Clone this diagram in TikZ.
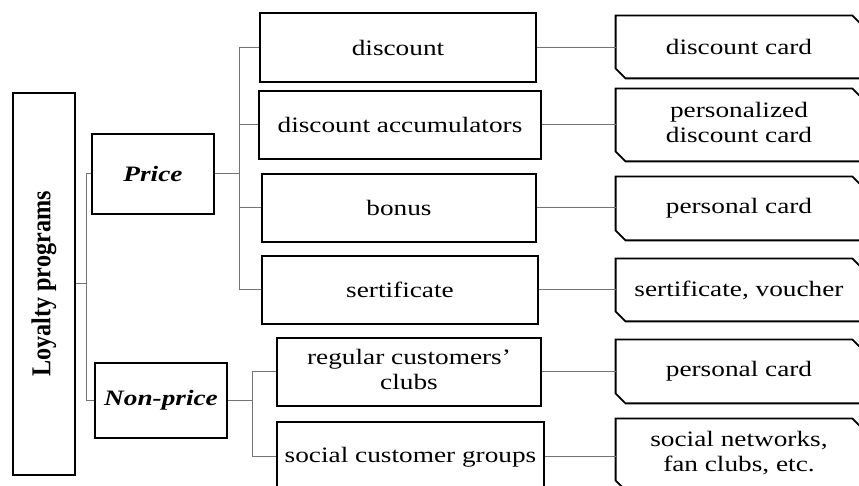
\documentclass[tikz,border=0pt]{standalone}
\usepackage{fontspec}
\setmainfont{Liberation Serif}
\usepackage{graphicx}
\usetikzlibrary{calc}
\newcommand{\wtxt}[1]{\scalebox{1.24}[1]{#1}}
\newcommand{\wtwo}[2]{\scalebox{1.24}[1]{\begin{tabular}{@{}c@{}}#1\\#2\end{tabular}}}
\tikzset{
  boxline/.style={line width=0.9pt, draw=black},
  box/.style={boxline, rectangle, inner sep=0pt, align=center,
    font=\fontsize{11}{12.5}\selectfont},
  chamf/.style={rectangle, inner sep=0pt, align=center, minimum width=123pt,
    font=\fontsize{11}{12.5}\selectfont},
  link/.style={line width=0.5pt, draw=black!55},
}
\begin{document}
\begin{tikzpicture}[x=0.5pt, y=-0.5pt]
			%%%%% START %%%%%
			\clip (0,0) rectangle (859,486);
			
			\node[box, minimum width=31pt, minimum height=191pt] (loyalty) at (44,284)
			  {\rotatebox{90}{\scalebox{1.1}[1.24]{\bfseries Loyalty programs}}};
			\node[box, minimum width=61pt, minimum height=40pt] (price) at (153,174)
			  {\wtxt{\bfseries\itshape Price}};
			\node[box, minimum width=66pt, minimum height=37.5pt] (nonprice) at (161,400.5)
			  {\wtxt{\bfseries\itshape Non-price}};
			
			% kinds of programs
			\node[box, minimum width=138pt, minimum height=34.5pt] (discount) at (398,47.5) {\wtxt{discount}};
			\node[box, minimum width=141pt, minimum height=34pt] (accum) at (400,125) {\wtxt{discount accumulators}};
			\node[box, minimum width=137pt, minimum height=34pt] (bonus) at (399,208) {\wtxt{bonus}};
			\node[box, minimum width=138pt, minimum height=34pt] (sertif) at (400,290) {\wtxt{sertificate}};
			\node[box, minimum width=132pt, minimum height=34pt] (clubs) at (409,372) {\wtwo{regular customers'}{clubs}};
			\node[box, minimum width=133.5pt, minimum height=35pt] (groups) at (410.5,457) {\wtxt{social customer groups}};
			
			% instruments
			\node[chamf, minimum height=31pt] (dcard) at (739,47) {\wtxt{discount card}};
			\node[chamf, minimum height=36pt] (pdcard) at (739,125) {\wtwo{personalized}{discount card}};
			\node[chamf, minimum height=31.5pt] (pcard) at (739,208.5) {\wtxt{personal card}};
			\node[chamf, minimum height=31pt] (vcard) at (739,290) {\wtxt{sertificate, voucher}};
			\node[chamf, minimum height=31.5pt] (pcardb) at (739,371.5) {\wtxt{personal card}};
			\node[chamf, minimum height=35.5pt] (snet) at (739,454.5) {\wtwo{social networks,}{fan clubs, etc.}};
			
			\foreach \n in {dcard,pdcard,pcard,vcard,pcardb,snet}
			  \draw[boxline] (\n.north west) -- ([xshift=-5pt]\n.north east) -- ([yshift=-5pt]\n.north east)
			    -- (\n.south east) -- ([xshift=5pt]\n.south west) -- ([yshift=5pt]\n.south west) -- cycle;
			
			% tree
			\coordinate (s1) at (86,284);
			\coordinate (s2) at (239,174);
			\coordinate (s3) at (252,400.5);
			\draw[link] (loyalty.east) -- (s1) |- (price.west);
			\draw[link] (s1) |- (nonprice.west);
			\draw[link] (price.east) -- (s2);
			\foreach \n in {discount,accum,bonus,sertif}
			  \draw[link] (s2) |- (\n.west);
			\draw[link] (nonprice.east) -- (s3);
			\foreach \n in {clubs,groups}
			  \draw[link] (s3) |- (\n.west);
			
			\draw[link] (discount.east) -- (dcard.west |- discount.east);
			\draw[link] (accum.east) -- (pdcard.west |- accum.east);
			\draw[link] (bonus.east) -- (pcard.west |- bonus.east);
			\draw[link] (sertif.east) -- (vcard.west |- sertif.east);
			\draw[link] (clubs.east) -- (pcardb.west |- clubs.east);
			\draw[link] (groups.east) -- (snet.west |- groups.east);
			%%%%% END %%%%%
		\end{tikzpicture}
\end{document}
